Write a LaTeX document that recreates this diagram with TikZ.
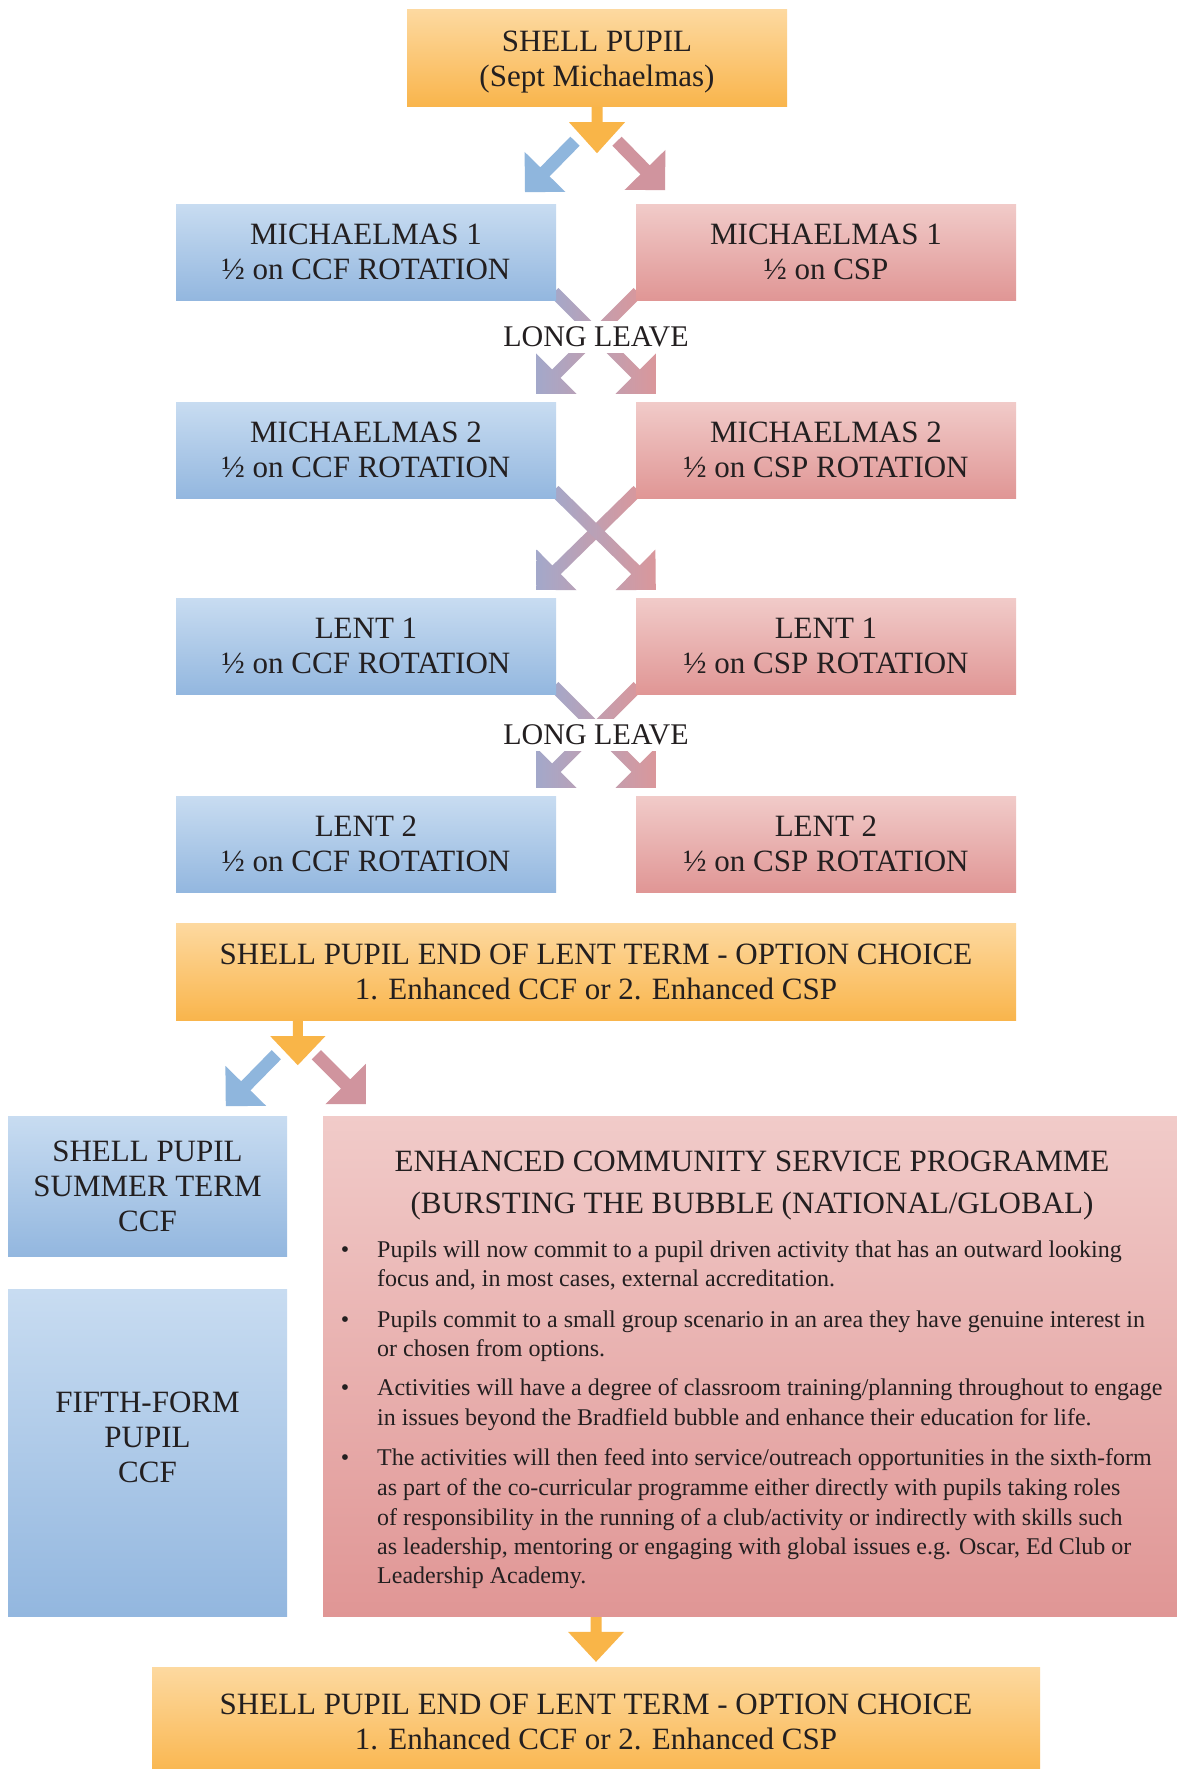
\documentclass[tikz,border=0pt]{standalone}
\usepackage{fontspec}
\setmainfont{Liberation Serif}
\usetikzlibrary{calc}
\pgfdeclarelayer{back}
\pgfdeclarelayer{bg}
\pgfsetlayers{back,bg,main}
\definecolor{blueT}{HTML}{C8DCF1}
\definecolor{blueB}{HTML}{93B7DF}
\definecolor{redT}{HTML}{F1CBC9}
\definecolor{redB}{HTML}{E09695}
\definecolor{oraT}{HTML}{FDD9A0}
\definecolor{oraB}{HTML}{F9B54C}
\definecolor{arrO}{HTML}{F9B548}
\definecolor{arrB}{HTML}{8FB6DD}
\definecolor{arrR}{HTML}{D0949E}
\definecolor{crossL}{HTML}{A3A8CA}
\definecolor{crossR}{HTML}{DA979B}
\definecolor{txt}{HTML}{231F20}
% #1 name, #2 path options, #3 tail, #4 tip, #5 stem half width, #6 head half width, #7 head length
\newcommand\blockarrow[7]{%
  \coordinate (#1q) at ($(#4)!#7!(#3)$);
  \path[#2] ($(#3)!#5!90:(#4)$) -- ($(#1q)!#5!-90:(#3)$) -- ($(#1q)!#6!-90:(#3)$) -- (#4)
    -- ($(#1q)!#6!90:(#3)$) -- ($(#1q)!#5!90:(#3)$) -- ($(#3)!#5!-90:(#4)$) -- cycle;}
\begin{document}
\begin{tikzpicture}[x=1pt,y=-1pt,
  cbox/.style={rectangle, inner sep=0pt, align=center, text=txt, font=\fontsize{31}{35}\selectfont},
  bluebox/.style={cbox, top color=blueT, bottom color=blueB},
  redbox/.style={cbox, top color=redT, bottom color=redB},
  orabox/.style={cbox, top color=oraT, bottom color=oraB},
  rowbox/.style={minimum width=380pt, minimum height=96pt},
  leavelbl/.style={text=txt, fill=white, inner xsep=6pt, inner ysep=0pt, minimum height=32pt, font=\fontsize{30}{34}\selectfont},
  headline/.style={text=txt, inner sep=0pt, anchor=base, font=\fontsize{31}{35}\selectfont},
  bodyline/.style={text=txt, inner sep=0pt, anchor=base west, font=\fontsize{24}{29}\selectfont},
  bulletmark/.style={text=txt, inner sep=0pt, anchor=base, font=\fontsize{24}{29}\selectfont},
]
\begin{pgfonlayer}{back}
\fill[white] (0,0) rectangle (1176,1769);
\end{pgfonlayer}
\useasboundingbox (0,0) rectangle (1176,1769);

% boxes
\node[orabox, minimum width=380pt, minimum height=96pt] (top) at (597,58) {};
\node[cbox] (toptxt) at (597,62) {SHELL PUPIL\\(Sept Michaelmas)};
\node[bluebox,rowbox] (b1) at (366,252) {MICHAELMAS 1\\½ on CCF ROTATION};
\node[redbox,rowbox]  (r1) at (826,252) {MICHAELMAS 1\\½ on CSP};
\node[bluebox,rowbox] (b2) at (366,450) {MICHAELMAS 2\\½ on CCF ROTATION};
\node[redbox,rowbox]  (r2) at (826,450) {MICHAELMAS 2\\½ on CSP ROTATION};
\node[bluebox,rowbox] (b3) at (366,646) {LENT 1\\½ on CCF ROTATION};
\node[redbox,rowbox]  (r3) at (826,646) {LENT 1\\½ on CSP ROTATION};
\node[bluebox,rowbox] (b4) at (366,844) {LENT 2\\½ on CCF ROTATION};
\node[redbox,rowbox]  (r4) at (826,844) {LENT 2\\½ on CSP ROTATION};
\node[orabox, minimum width=840pt, minimum height=97pt] (mid) at (596,971.5)
  {SHELL PUPIL END OF LENT TERM - OPTION CHOICE\\1. Enhanced CCF or 2. Enhanced CSP};
\node[bluebox, minimum width=279pt, minimum height=140pt] (sum) at (147.5,1186) {SHELL PUPIL\\SUMMER TERM\\CCF};
\node[bluebox, minimum width=279pt, minimum height=327pt] (fifth) at (147.5,1452.5) {};
\node[cbox] (fifthtxt) at (147.5,1437) {FIFTH-FORM\\PUPIL\\CCF};
\node[redbox, minimum width=860pt, minimum height=500pt] (ecsp) at (753,1366) {};
\node[orabox, minimum width=888pt, minimum height=110pt] (bot) at (596,1722)
  {SHELL PUPIL END OF LENT TERM - OPTION CHOICE\\1. Enhanced CCF or 2. Enhanced CSP};

% text of the big red box
\node[headline] (et1) at (752,1171) {ENHANCED COMMUNITY SERVICE PROGRAMME};
\node[headline] (et2) at (752,1213) {(BURSTING THE BUBBLE (NATIONAL/GLOBAL)};
\node[bulletmark] (bu1) at (345,1257) {\textbullet};
\node[bulletmark] (bu2) at (345,1327) {\textbullet};
\node[bulletmark] (bu3) at (345,1395) {\textbullet};
\node[bulletmark] (bu4) at (345,1465) {\textbullet};
\foreach \i/\yy/\tt in {
  1/1257/{Pupils will now commit to a pupil driven activity that has an outward looking},
  2/1286/{focus and, in most cases, external accreditation.},
  3/1327/{Pupils commit to a small group scenario in an area they have genuine interest in},
  4/1356/{or chosen from options.},
  5/1395/{Activities will have a degree of classroom training/planning throughout to engage},
  6/1425/{in issues beyond the Bradfield bubble and enhance their education for life.},
  7/1465/{The activities will then feed into service/outreach opportunities in the sixth-form},
  8/1495/{as part of the co-curricular programme either directly with pupils taking roles},
  9/1525/{of responsibility in the running of a club/activity or indirectly with skills such},
  10/1554/{as leadership, mentoring or engaging with global issues e.g. Oscar, Ed Club or},
  11/1583/{Leadership Academy.}}
  \node[bodyline] (line\i) at (377,\yy) {\tt};

% long leave labels
\node[leavelbl] (ll1) at (596,337) {LONG LEAVE};
\node[leavelbl] (ll2) at (596,735) {LONG LEAVE};

% arrows (behind the boxes)
\begin{pgfonlayer}{bg}
\coordinate (ot) at (top.south);
\blockarrow{a0}{fill=arrO}{$(ot)+(0,-4)$}{$(ot)+(0,47)$}{5.5pt}{28pt}{31pt}
\blockarrow{a1}{fill=arrB}{$(ot)+(-22,35)$}{$(ot)+(-72,86)$}{6.5pt}{28.5pt}{28.5pt}
\blockarrow{a2}{fill=arrR}{$(ot)+(20,35)$}{$(ot)+(68,84)$}{6.5pt}{28.5pt}{28.5pt}

\foreach \k/\n in {1/2,2/3,3/4}{
  \coordinate (drt\k) at ($(b\k.south east)+(-2,-8)$);
  \coordinate (drh\k) at ($(r\n.north west)+(20,-8)$);
  \coordinate (dlt\k) at ($(r\k.south west)+(2,-8)$);
  \coordinate (dlh\k) at ($(b\n.north east)+(-20,-8)$);
  \blockarrow{x\k}{left color=crossL, right color=crossR}{dlt\k}{dlh\k}{6pt}{28.5pt}{28.5pt}
  \blockarrow{y\k}{left color=crossL, right color=crossR}{drt\k}{drh\k}{6pt}{28.5pt}{28.5pt}
}

\coordinate (ob) at ($(mid.south west)+(122,0)$);
\blockarrow{c0}{fill=arrO}{$(ob)+(0,-4)$}{$(ob)+(0,45)$}{5pt}{27.5pt}{29pt}
\blockarrow{c1}{fill=arrB}{$(ob)+(-21.5,34.5)$}{$(ob)+(-72,86)$}{6.5pt}{28.5pt}{28.5pt}
\blockarrow{c2}{fill=arrR}{$(ob)+(18.5,34.5)$}{$(ob)+(68,84)$}{6.5pt}{28.5pt}{28.5pt}

\coordinate (et) at ($(bot.north |- ecsp.south)+(0,-6)$);
\coordinate (eh) at ($(bot.north)+(0,-5)$);
\blockarrow{d0}{fill=arrO}{et}{eh}{5.5pt}{28pt}{30pt}
\end{pgfonlayer}
\end{tikzpicture}
\end{document}
